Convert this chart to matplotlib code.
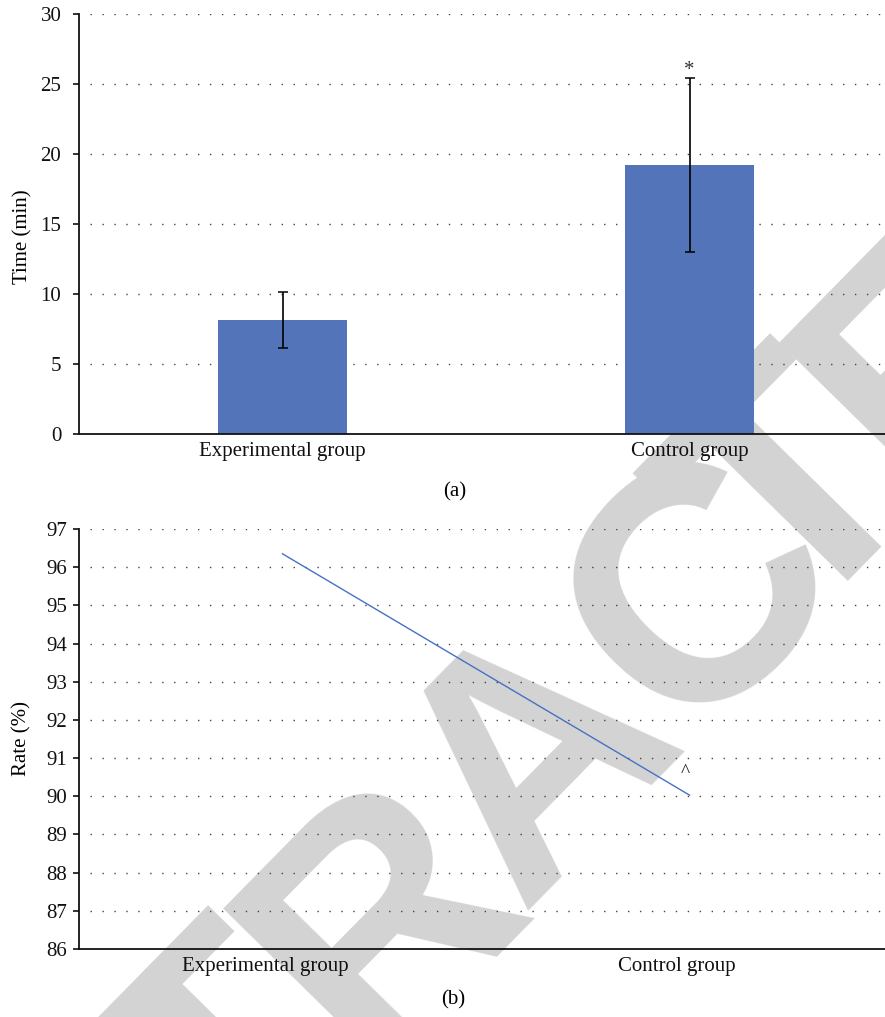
import math
import matplotlib
matplotlib.use("Agg")
import matplotlib.pyplot as plt

# ---- data ----
categories = ["Experimental group", "Control group"]
time_means = [8.15, 19.2]
time_err = [2.0, 6.2]
time_yticks = [0, 5, 10, 15, 20, 25, 30]
rate_values = [96.35, 90.03]
rate_yticks = list(range(86, 98))
watermark = "RETRACTED"

W, H = 885, 1017
fig = plt.figure(figsize=(W / 100, H / 100), dpi=100)
fig.patch.set_facecolor("white")

serif = ["Liberation Serif", "DejaVu Serif"]
plt.rcParams["font.family"] = serif

def fx(px):
    return px / W

def fy(py):
    return 1 - py / H

bar_color = "#5474b9"
line_color = "#4472c4"
grid_kw = dict(color="#444444", linestyle=(0, (1, 7.6)), linewidth=1.0)

# ---- top axes ----
left = 79.0
axw = 814
ax1 = fig.add_axes([fx(left), fy(434), fx(axw), (434 - 14) / H])
ax1.set_facecolor("none")
x = [0, 1]
ax1.bar(x, time_means, width=0.315, color=bar_color, zorder=2)
ax1.errorbar(x, time_means, yerr=time_err, fmt="none", ecolor="black",
             elinewidth=1.2, capsize=3.6, capthick=1.1, zorder=3)
ax1.annotate("*", xy=(1, time_means[1] + time_err[1]), xytext=(0, -1),
             textcoords="offset points", ha="center", va="bottom",
             fontsize=15, color="#333333", zorder=4)
ax1.set_xlim(-0.5, 1.5)
ax1.set_ylim(0, 30)
ax1.set_yticks(time_yticks)
ax1.set_xticks(x)
ax1.set_xticklabels(categories)
for t in ax1.get_yticks():
    if t > 0:
        ax1.axhline(t, xmin=0.013, **grid_kw, zorder=1)
ax1.set_ylabel("Time (min)", fontsize=15)
ax1.yaxis.set_label_coords(-0.057, 0.47)

# ---- bottom axes ----
ax2 = fig.add_axes([fx(left), fy(949), fx(axw), (949 - 529) / H])
ax2.set_facecolor("none")
ax2.plot(x, rate_values, color=line_color, linewidth=1.0, zorder=3)
ax2.annotate("^", xy=(1, rate_values[1]), xytext=(-3, 16),
             textcoords="offset points", ha="center", va="center",
             fontsize=14, color="#222222")
ax2.set_xlim(-0.5, 1.5)
ax2.set_ylim(86, 97)
ax2.set_yticks(rate_yticks)
# category labels sit slightly left of the data points in the reference
ax2.set_xticks([-0.042, 0.97])
ax2.set_xticklabels(categories)
for t in rate_yticks:
    if t > 86:
        ax2.axhline(t, xmin=0.013, **grid_kw, zorder=1)
ax2.set_ylabel("Rate (%)", fontsize=15)
ax2.yaxis.set_label_coords(-0.058, 0.5)

for ax, pad in ((ax1, 8.5), (ax2, 4.3)):
    for s in ("top", "right"):
        ax.spines[s].set_visible(False)
    for s in ("left", "bottom"):
        ax.spines[s].set_linewidth(1.3)
        ax.spines[s].set_color("#111111")
    ax.tick_params(axis="y", direction="out", length=4.2, width=1.2,
                   labelsize=15, pad=pad, colors="#111111")
    ax.tick_params(axis="x", length=0, labelsize=15, pad=6, colors="#111111")

fig.text(fx(455), fy(492), "(a)", ha="center", va="center", fontsize=15)
fig.text(fx(453), fy(1000), "(b)", ha="center", va="center", fontsize=15)

# ---- watermark (letters placed along a 45.5 degree baseline) ----
wm_size = 240
wm_angle = 45.5
wm_offsets = [-835, -625, -432, -221, 0, 235, 370, 563, 773]  # px along baseline
cx, cy = 543, 765
ca, sa = math.cos(math.radians(wm_angle)), math.sin(math.radians(wm_angle))
for ch, s in zip(watermark, wm_offsets):
    px, py = cx + s * ca, cy - s * sa
    fig.text(fx(px), fy(py), ch, rotation=wm_angle, rotation_mode="anchor",
             ha="center", va="center", fontsize=wm_size, color="#d3d3d3",
             family=["Liberation Sans", "DejaVu Sans"], fontweight="bold",
             zorder=-5)

fig.savefig("out.png", dpi=100, facecolor="white")
